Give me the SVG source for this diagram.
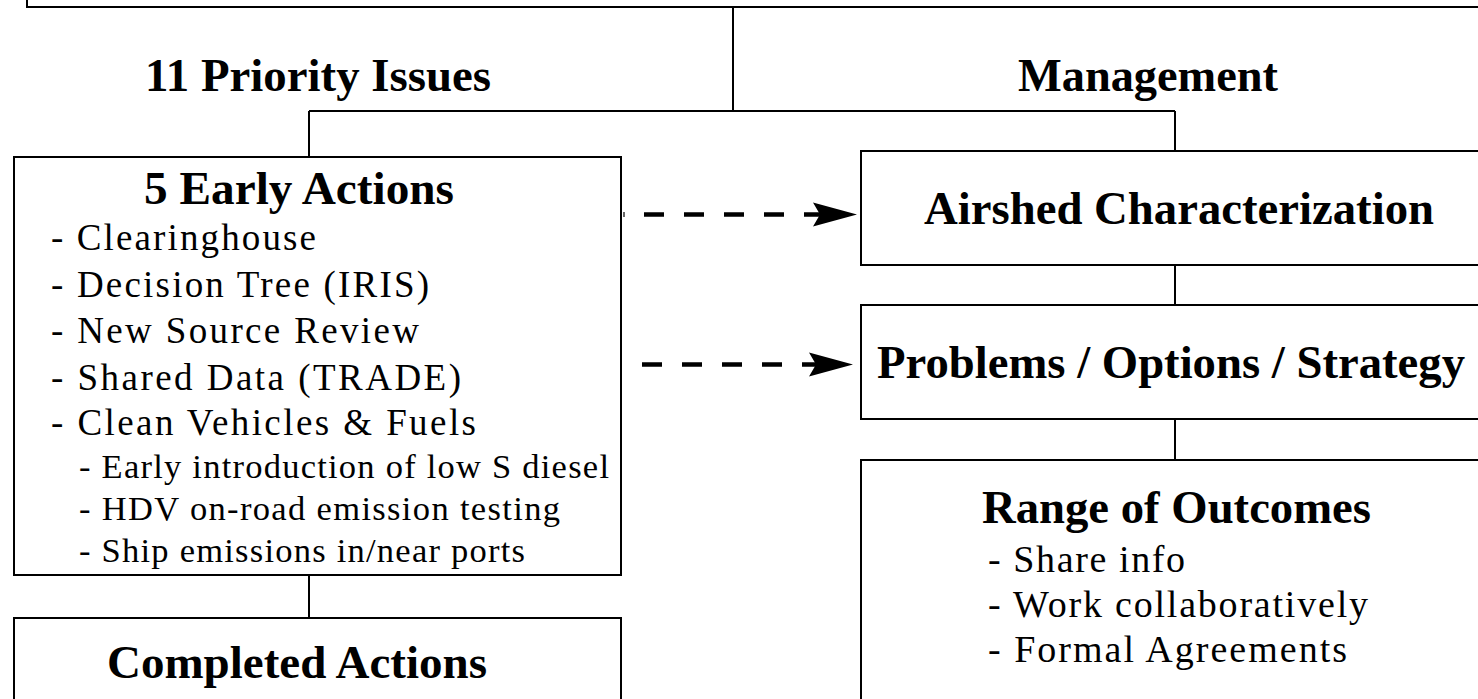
<svg xmlns="http://www.w3.org/2000/svg" xmlns:xlink="http://www.w3.org/1999/xlink" width="1478" height="699" viewBox="0 0 1478 699">
<style>
.box{fill:#fff;stroke:#000;stroke-width:2}
.ln{fill:none;stroke:#000;stroke-width:2}
.dash{fill:none;stroke:#000;stroke-width:4.5;stroke-dasharray:20 20}
.t{font-family:"Liberation Serif","Times New Roman",serif;fill:#000}
.b{font-weight:bold;font-size:47px}
.r{font-size:37px}
.s{font-size:34.5px}
.q{font-size:38px}
</style>
<defs>
<path id="head" d="M0,0 L-44,-12 L-37,0 L-44,12 Z" fill="#000"/>
</defs>
<rect width="1478" height="699" fill="#fff"/>
<g id="connectors">
<path class="ln" d="M733,7 V111 M309,111 H1175 M309,111 V157 M1175,111 V151"/>
<path class="ln" d="M1175,265 V305 M1175,419 V460"/>
<path class="ln" d="M309,575 V618"/>
<path fill="none" stroke="#000" stroke-width="1.2" d="M624,212 V217"/>
<path class="dash" d="M644,214.5 H822"/>
<use xlink:href="#head" x="857" y="214.5"/>
<path class="dash" d="M642,364.5 H818"/>
<use xlink:href="#head" x="853" y="364.5"/>
</g>
<g id="top">
<path class="ln" d="M27,-5 V7 H1490"/>
<text class="t b" x="145" y="91" lengthAdjust="spacingAndGlyphs" textLength="346">11 Priority Issues</text>
<text class="t b" x="1018" y="91" lengthAdjust="spacingAndGlyphs" textLength="260">Management</text>
</g>
<g id="early-actions">
<rect class="box" x="14" y="157" width="607" height="418"/>
<text class="t b" x="144" y="204" lengthAdjust="spacingAndGlyphs" textLength="310">5 Early Actions</text>
<text class="t r" x="51" y="250" textLength="265">- Clearinghouse</text>
<text class="t r" x="51" y="297" textLength="378">- Decision Tree (IRIS)</text>
<text class="t r" x="51" y="343" textLength="368">- New Source Review</text>
<text class="t r" x="51" y="390" textLength="410">- Shared Data (TRADE)</text>
<text class="t r" x="51" y="435" textLength="425">- Clean Vehicles &amp; Fuels</text>
<text class="t s" x="79" y="478" textLength="530">- Early introduction of low S diesel</text>
<text class="t s" x="79" y="520" textLength="481">- HDV on-road emission testing</text>
<text class="t s" x="79" y="562" textLength="446">- Ship emissions in/near ports</text>
</g>
<g id="completed-actions">
<rect class="box" x="14" y="618" width="607" height="100"/>
<text class="t b" x="107" y="678" lengthAdjust="spacingAndGlyphs" textLength="380">Completed Actions</text>
</g>
<g id="airshed">
<rect class="box" x="861" y="151" width="640" height="114"/>
<text class="t b" x="924" y="224" lengthAdjust="spacingAndGlyphs" textLength="510">Airshed Characterization</text>
</g>
<g id="problems">
<rect class="box" x="861" y="305" width="640" height="114"/>
<text class="t b" x="877" y="378" lengthAdjust="spacingAndGlyphs" textLength="588">Problems / Options / Strategy</text>
</g>
<g id="outcomes">
<rect class="box" x="861" y="460" width="640" height="260"/>
<text class="t b" x="982" y="523" lengthAdjust="spacingAndGlyphs" textLength="389">Range of Outcomes</text>
<text class="t q" x="988" y="572" textLength="197">- Share info</text>
<text class="t q" x="988" y="617" textLength="380">- Work collaboratively</text>
<text class="t q" x="988" y="662" textLength="359">- Formal Agreements</text>
</g>
</svg>
